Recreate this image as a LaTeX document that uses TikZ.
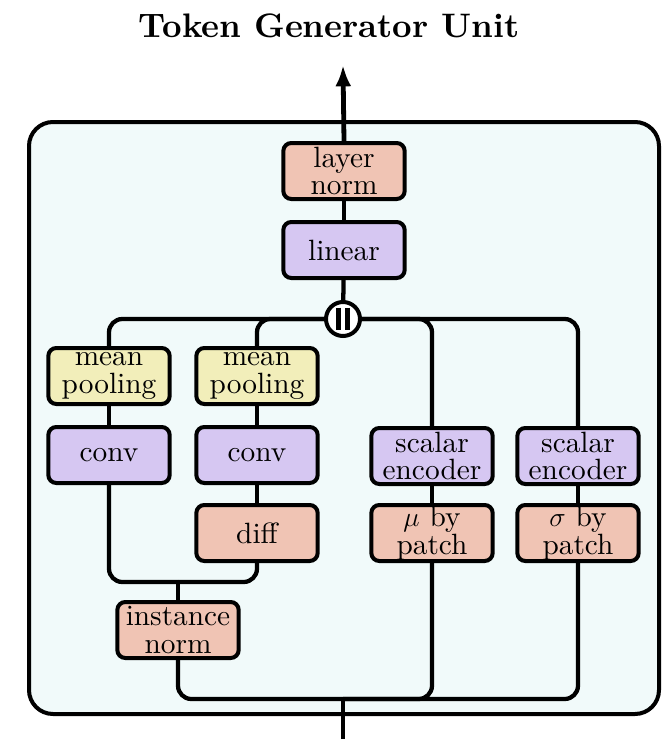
\documentclass[tikz,border=0pt]{standalone}
\usepackage{fontspec}
\setmainfont{lmroman10-regular.otf}[BoldFont=lmroman10-bold.otf, ItalicFont=lmroman10-italic.otf]
\usepackage{amsmath}
\usepackage{tikz}
\usetikzlibrary{arrows.meta, calc, positioning}

\definecolor{normcol}{RGB}{240,196,180}
\definecolor{layercol}{RGB}{214,199,242}
\definecolor{poolcol}{RGB}{242,238,186}
\definecolor{unitcol}{RGB}{241,250,250}

\begin{document}
\begin{tikzpicture}[x=0.75pt,y=0.75pt,yscale=-1,xscale=1,
	blk/.style={draw, line width=3pt, rounded corners=6pt, minimum width=91pt, minimum height=42pt,
		align=center, inner sep=0pt, font=\fontsize{22}{20.5}\selectfont},
	normblk/.style={blk, fill=normcol},
	layerblk/.style={blk, fill=layercol},
	poolblk/.style={blk, fill=poolcol},
	wire/.style={line width=3.2pt, rounded corners=10pt},
	bigwire/.style={line width=3.6pt}]
	\useasboundingbox (0,0) rectangle (669,739);

	%Shape: Rounded Rect
	\draw [fill=unitcol, line width=3pt, rounded corners=18pt] (29,122) rectangle (659,714);

	% Text Node
	\node (title) [anchor=base, font=\fontsize{25.5}{30}\selectfont\bfseries] at (329,37) {Token Generator Unit};

	% blocks
	\node (ln) [normblk] at (344,171) {layer\\norm};
	\node (lin) [layerblk] at (344,250) {linear};
	\node (cat) [draw, circle, fill=white, line width=3pt, minimum size=25.5pt, inner sep=0pt] at (343,319) {};

	\node (mp1) [poolblk] at (109,376) {mean\\pooling};
	\node (mp2) [poolblk] at (257,376) {mean\\pooling};
	\node (cv1) [layerblk] at (109,455) {conv};
	\node (cv2) [layerblk] at (257,455) {conv};
	\node (df) [normblk] at (257,533) {diff};
	\node (inn) [normblk] at (178,630) {instance\\norm};

	\node (se1) [layerblk] at (432,456) {scalar\\encoder};
	\node (se2) [layerblk] at (578,456) {scalar\\encoder};
	\node (mu) [normblk] at (432,533) {$\mu$ by\\patch};
	\node (sg) [normblk] at (578,533) {$\sigma$ by\\patch};

	% junctions and ends
	\coordinate (out) at (343,65);
	\coordinate (inp) at (343,739);
	\coordinate (jdiff) at (178,582);
	\coordinate (jin) at (343,699);

	%Straight Lines
	\draw [bigwire, -{Latex[length=16pt,width=12pt]}] (ln.north) -- (out);
	\draw [wire] (ln) -- (lin);
	\draw [wire] (lin) -- (cat);
	% concat bars
	\draw [line width=3.6pt] ([xshift=-3.2pt,yshift=-8.5pt]cat.center) -- ([xshift=-3.2pt,yshift=8.5pt]cat.center);
	\draw [line width=3.6pt] ([xshift=3.2pt,yshift=-8.5pt]cat.center) -- ([xshift=3.2pt,yshift=8.5pt]cat.center);

	% branches out of the concat
	\draw [wire] (cat.west) -| (mp1.north);
	\draw [wire] (cat.west) -| (mp2.north);
	\draw [wire] (cat.east) -| (se1.north);
	\draw [wire] (cat.east) -| (se2.north);

	\draw [wire] (mp1) -- (cv1);
	\draw [wire] (mp2) -- (cv2);
	\draw [wire] (cv2) -- (df);
	\draw [wire] (se1) -- (mu);
	\draw [wire] (se2) -- (sg);

	% merge into instance norm
	\draw [wire] (cv1.south) |- (jdiff);
	\draw [wire] (df.south) |- (jdiff);
	\draw [wire] (jdiff) -- (inn.north);

	% input bus
	\draw [wire] (inn.south) |- (jin);
	\draw [wire] (mu.south) |- (jin);
	\draw [wire] (sg.south) |- (jin);
	\draw [bigwire] (inp) -- (jin);
\end{tikzpicture}
\end{document}
